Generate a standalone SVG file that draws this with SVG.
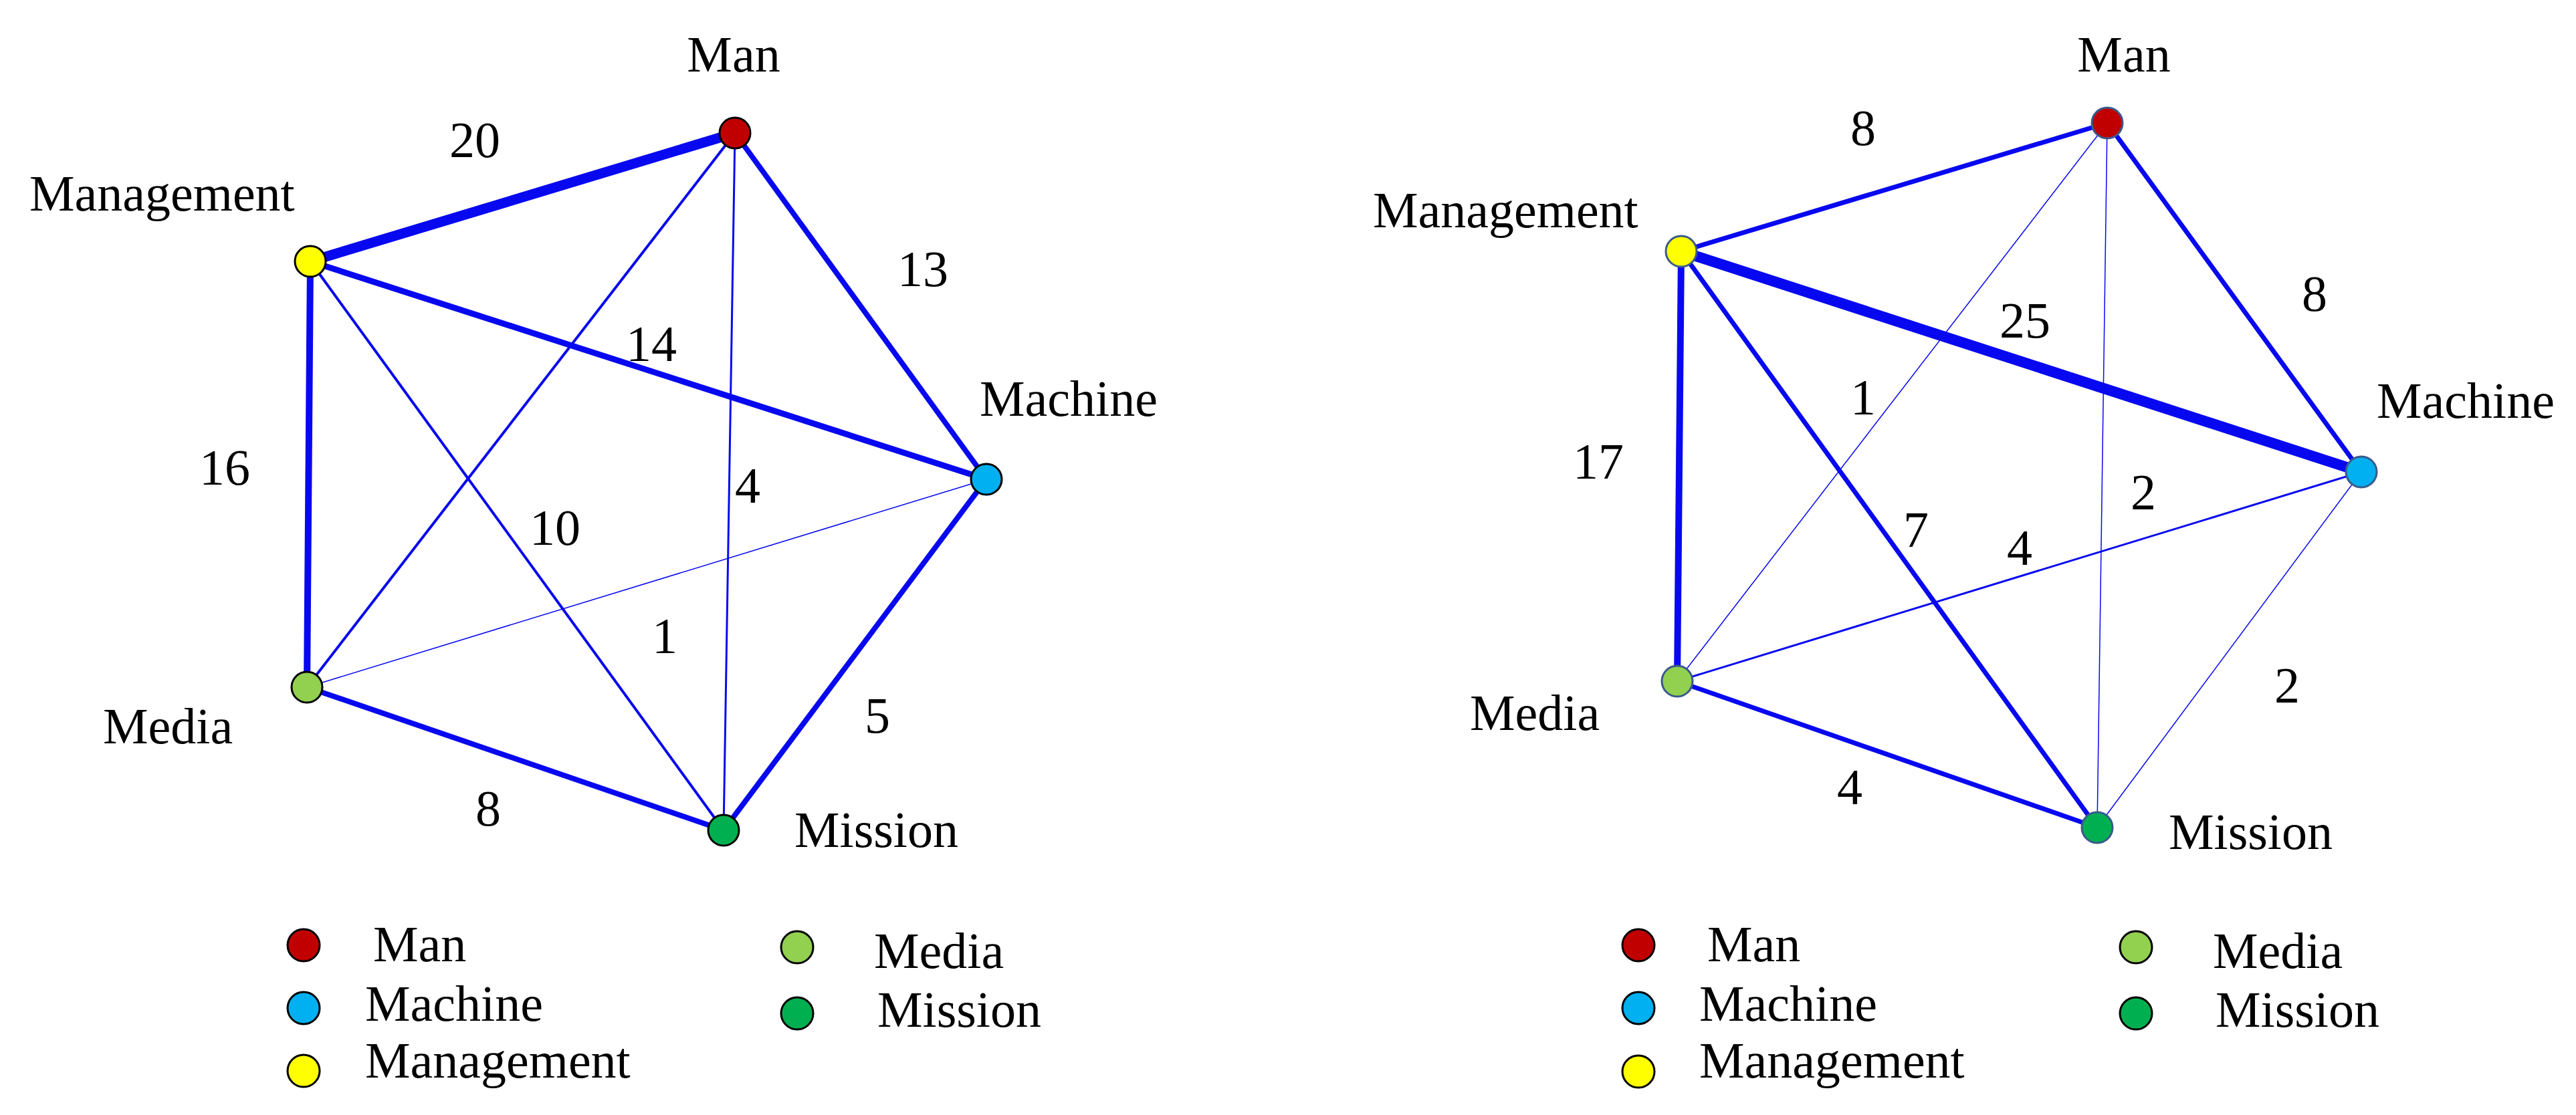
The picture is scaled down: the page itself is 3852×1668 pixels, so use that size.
<svg xmlns="http://www.w3.org/2000/svg" width="3852" height="1668" viewBox="0 0 3852 1668">
<style>
text{font-family:"Liberation Serif","DejaVu Serif",serif;font-size:76px;fill:#000}
.m{text-anchor:middle}
.e{stroke:#0808f0;fill:none;stroke-linecap:round}
.n{stroke:#000;stroke-width:3}
.n2{stroke:#3a5a8a;stroke-width:3}
.man{fill:#c00000}.mac{fill:#00b0f0}.mgt{fill:#ffff00}.med{fill:#92d050}.mis{fill:#00b050}
</style>
<g id="connectors">
<line class="e" x1="1099" y1="199" x2="464" y2="391" stroke-width="15"/>
<line class="e" x1="1099" y1="199" x2="1475" y2="717" stroke-width="8"/>
<line class="e" x1="464" y1="391" x2="1475" y2="717" stroke-width="9"/>
<line class="e" x1="464" y1="391" x2="459" y2="1028" stroke-width="10"/>
<line class="e" x1="1099" y1="199" x2="459" y2="1028" stroke-width="4"/>
<line class="e" x1="464" y1="391" x2="1082" y2="1242" stroke-width="4"/>
<line class="e" x1="1099" y1="199" x2="1082" y2="1242" stroke-width="3"/>
<line class="e" x1="459" y1="1028" x2="1475" y2="717" stroke-width="1.5"/>
<line class="e" x1="1475" y1="717" x2="1082" y2="1242" stroke-width="8"/>
<line class="e" x1="459" y1="1028" x2="1082" y2="1242" stroke-width="8"/>

<line class="e" x1="3151" y1="184" x2="2514" y2="376" stroke-width="7"/>
<line class="e" x1="3151" y1="184" x2="3531" y2="706" stroke-width="7"/>
<line class="e" x1="2514" y1="376" x2="3531" y2="706" stroke-width="16"/>
<line class="e" x1="2514" y1="376" x2="2508" y2="1019" stroke-width="10"/>
<line class="e" x1="2514" y1="376" x2="3136" y2="1238" stroke-width="7"/>
<line class="e" x1="3151" y1="184" x2="2508" y2="1019" stroke-width="1.5"/>
<line class="e" x1="3151" y1="184" x2="3136" y2="1238" stroke-width="1.5"/>
<line class="e" x1="2508" y1="1019" x2="3531" y2="706" stroke-width="3"/>
<line class="e" x1="3531" y1="706" x2="3136" y2="1238" stroke-width="1.5"/>
<line class="e" x1="2508" y1="1019" x2="3136" y2="1238" stroke-width="7"/>
</g>
<g id="edge-labels">
<text class="m" x="710" y="235">20</text>
<text class="m" x="1380" y="428">13</text>
<text class="m" x="974" y="540">14</text>
<text class="m" x="336" y="725">16</text>
<text class="m" x="1118" y="752">4</text>
<text class="m" x="830" y="815">10</text>
<text class="m" x="994" y="977">1</text>
<text class="m" x="1312" y="1096">5</text>
<text class="m" x="730" y="1235">8</text>

<text class="m" x="2786" y="217">8</text>
<text class="m" x="3461" y="465">8</text>
<text class="m" x="3028" y="505">25</text>
<text class="m" x="2786" y="620">1</text>
<text class="m" x="2390" y="716">17</text>
<text class="m" x="3205" y="762">2</text>
<text class="m" x="2865" y="818">7</text>
<text class="m" x="3020" y="845">4</text>
<text class="m" x="3420" y="1051">2</text>
<text class="m" x="2766" y="1203">4</text>
</g>
<g id="L-man"><circle class="n man" cx="1099" cy="199" r="23"/><text class="m" x="1097" y="107">Man</text></g>
<g id="L-management"><circle class="n mgt" cx="464" cy="391" r="23"/><text x="44" y="315">Management</text></g>
<g id="L-machine"><circle class="n mac" cx="1475" cy="717" r="23"/><text x="1465" y="622">Machine</text></g>
<g id="L-media"><circle class="n med" cx="459" cy="1028" r="23"/><text x="154" y="1112">Media</text></g>
<g id="L-mission"><circle class="n mis" cx="1082" cy="1242" r="23"/><text x="1188" y="1267">Mission</text></g>

<g id="R-man"><circle class="n2 man" cx="3151" cy="184" r="23"/><text class="m" x="3176" y="107">Man</text></g>
<g id="R-management"><circle class="n2 mgt" cx="2514" cy="376" r="23"/><text x="2053" y="340">Management</text></g>
<g id="R-machine"><circle class="n2 mac" cx="3531" cy="706" r="23"/><text x="3554" y="625">Machine</text></g>
<g id="R-media"><circle class="n2 med" cx="2508" cy="1019" r="23"/><text x="2198" y="1092">Media</text></g>
<g id="R-mission"><circle class="n2 mis" cx="3136" cy="1238" r="23"/><text x="3243" y="1270">Mission</text></g>

<g id="legend-left">
<circle class="n man" cx="454" cy="1414" r="24"/><text x="558" y="1438">Man</text>
<circle class="n mac" cx="454" cy="1508" r="24"/><text x="546" y="1527">Machine</text>
<circle class="n mgt" cx="454" cy="1602" r="24"/><text x="546" y="1612">Management</text>
<circle class="n med" cx="1192" cy="1417" r="24"/><text x="1307" y="1448">Media</text>
<circle class="n mis" cx="1192" cy="1516" r="24"/><text x="1312" y="1536">Mission</text>
</g>
<g id="legend-right">
<circle class="n man" cx="2450" cy="1414" r="24"/><text x="2553" y="1438">Man</text>
<circle class="n mac" cx="2450" cy="1508" r="24"/><text x="2541" y="1527">Machine</text>
<circle class="n mgt" cx="2450" cy="1603" r="24"/><text x="2541" y="1612">Management</text>
<circle class="n med" cx="3194" cy="1417" r="24"/><text x="3309" y="1448">Media</text>
<circle class="n mis" cx="3194" cy="1516" r="24"/><text x="3313" y="1536">Mission</text>
</g>
</svg>
